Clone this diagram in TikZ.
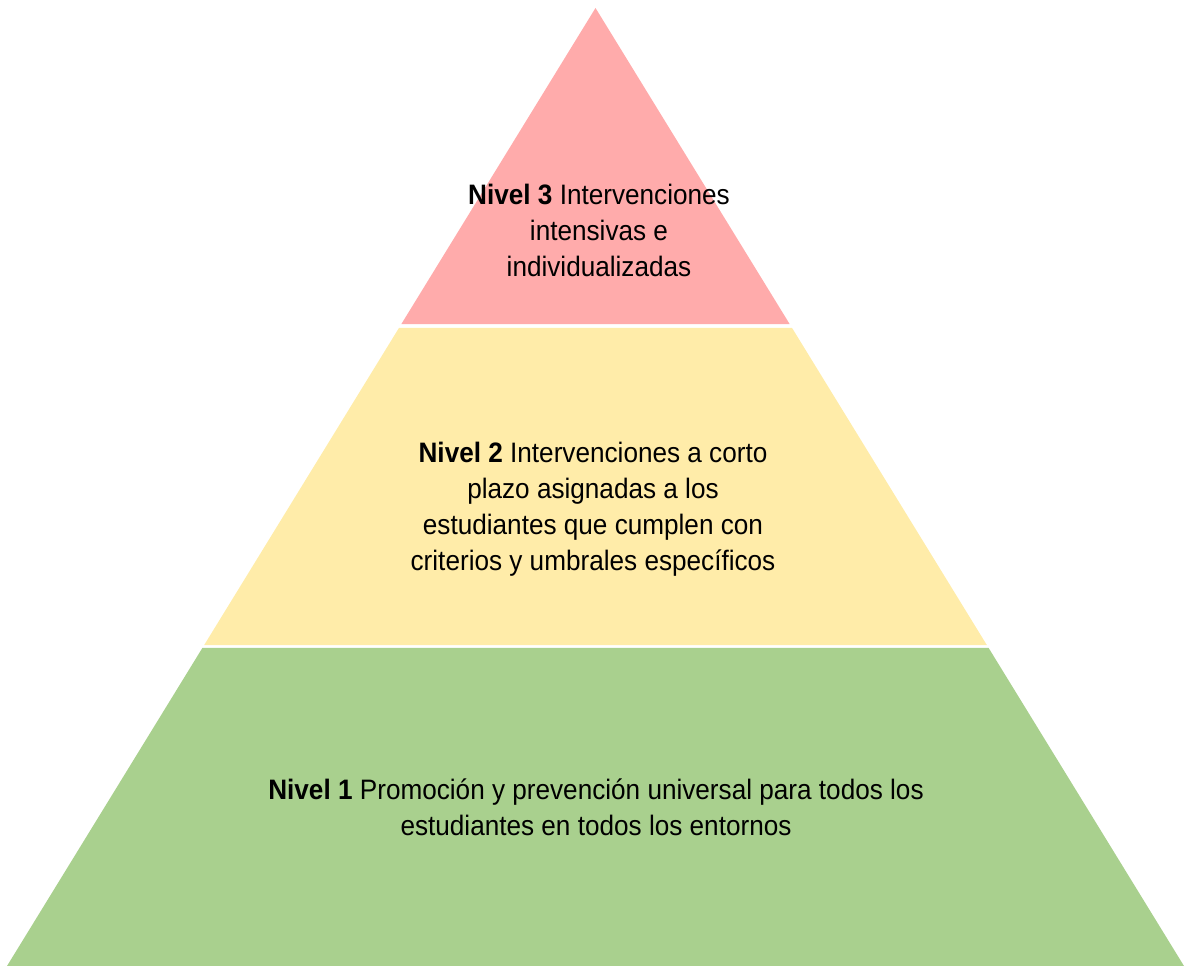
\documentclass[tikz,border=0pt]{standalone}
\usepackage{fontspec}
\setmainfont{Liberation Sans}[FakeStretch=0.93]
\usepackage{xcolor}
\usepackage{tikz}
\usetikzlibrary{calc}

\definecolor{tierred}{HTML}{FFABAB}
\definecolor{tieryellow}{HTML}{FFECA9}
\definecolor{tiergreen}{HTML}{A9D08E}

\begin{document}
\begin{tikzpicture}[
x=0.02cm,y=-0.02cm,
label/.style={align=center,font=\fontsize{16}{20.5}\selectfont,text=black,inner sep=0pt}
]
\useasboundingbox (0,0) rectangle (1186,966);
\coordinate (apex) at (595.5,8);
\coordinate (bl) at (7,966);
\coordinate (br) at (1184,966);
% three tiers with thin white gaps
\fill[tierred] (apex) -- ($(apex)!0.3299!(br)$) -- ($(apex)!0.3299!(bl)$) -- cycle;
\fill[tieryellow] ($(apex)!0.334!(bl)$) -- ($(apex)!0.334!(br)$) -- ($(apex)!0.665!(br)$) -- ($(apex)!0.665!(bl)$) -- cycle;
\fill[tiergreen] ($(apex)!0.668!(bl)$) -- ($(apex)!0.668!(br)$) -- (br) -- (bl) -- cycle;
\node[label] (tier3) at (599,230) {\textbf{Nivel 3} Intervenciones\\intensivas e\\individualizadas};
\node[label] (tier2) at (593,509) {\textbf{Nivel 2} Intervenciones a corto\\plazo asignadas a los\\estudiantes que cumplen con\\criterios y umbrales específicos};
\node[label] (tier1) at (596,807) {\textbf{Nivel 1} Promoción y prevención universal para todos los\\estudiantes en todos los entornos};
\end{tikzpicture}
\end{document}
